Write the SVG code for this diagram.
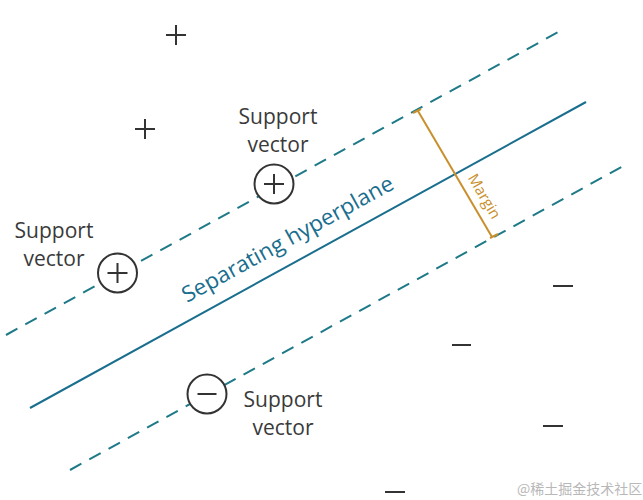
<svg xmlns="http://www.w3.org/2000/svg" width="643" height="500" viewBox="0 0 643 500">
  <style>
    .dash { stroke: #1f7a88; stroke-width: 2; fill: none; stroke-dasharray: 13 9; }
    .solid { stroke: #1a6e8e; stroke-width: 2; fill: none; }
    .margin { stroke: #c98f2c; stroke-width: 2; fill: none; }
    .mark { stroke: #333; stroke-width: 2; fill: none; }
    .sv { stroke: #333; stroke-width: 2; fill: #fff; }
    .lbl { font-family: "Open Sans", "DejaVu Sans", sans-serif; font-size: 21px; fill: #3a3a3a; text-anchor: middle; }
  </style>
  <rect width="643" height="500" fill="#fff"/>

  <g id="connectors">
    <line class="dash" x1="6" y1="335" x2="562" y2="30"/>
    <line class="solid" x1="30" y1="408" x2="586" y2="102"/>
    <line class="dash" x1="70" y1="470" x2="625" y2="165"/>
    <line class="margin" x1="418" y1="111" x2="492" y2="237"/>
    <line class="margin" x1="413" y1="113" x2="421" y2="109"/>
    <line class="margin" x1="490" y1="238" x2="498" y2="234"/>
  </g>

  <g id="hyperplane-label">
    <text x="187" y="303" transform="rotate(-28.83 187 303)" font-family="Open Sans, DejaVu Sans, sans-serif" font-size="22" fill="#1a6e8e" textLength="238" lengthAdjust="spacingAndGlyphs">Separating hyperplane</text>
  </g>

  <g id="margin-label">
    <text x="480" y="199" transform="rotate(59.4 480 199)" font-family="Open Sans, DejaVu Sans, sans-serif" font-size="15" fill="#c98f2c" text-anchor="middle">Margin</text>
  </g>

  <g id="sv1">
    <circle class="sv" cx="274" cy="184" r="19.5"/>
    <path class="mark" d="M264 184H284M274 174V194"/>
    <text class="lbl" x="278" y="124">Support</text>
    <text class="lbl" x="278" y="152">vector</text>
  </g>

  <g id="sv2">
    <circle class="sv" cx="117.5" cy="273" r="19.5"/>
    <path class="mark" d="M107.5 273H127.5M117.5 263V283"/>
    <text class="lbl" x="54" y="238">Support</text>
    <text class="lbl" x="54" y="266">vector</text>
  </g>

  <g id="sv3">
    <circle class="sv" cx="207" cy="394" r="19.5"/>
    <path class="mark" d="M197.5 394H216.5"/>
    <text class="lbl" x="283" y="407">Support</text>
    <text class="lbl" x="283" y="435">vector</text>
  </g>

  <g id="plus1"><path class="mark" d="M166 35H186M176 25V45"/></g>
  <g id="plus2"><path class="mark" d="M135 129H155M145 119V139"/></g>

  <g id="minus1"><path class="mark" d="M553 286H573"/></g>
  <g id="minus2"><path class="mark" d="M452 345H471"/></g>
  <g id="minus3"><path class="mark" d="M543 426H563"/></g>
  <g id="minus4"><path class="mark" d="M385 492H405"/></g>

  <g id="watermark">
    <text x="517" y="494" font-family="Noto Sans CJK SC, sans-serif" font-size="14" fill="#b8b8b8">@稀土掘金技术社区</text>
  </g>
</svg>
